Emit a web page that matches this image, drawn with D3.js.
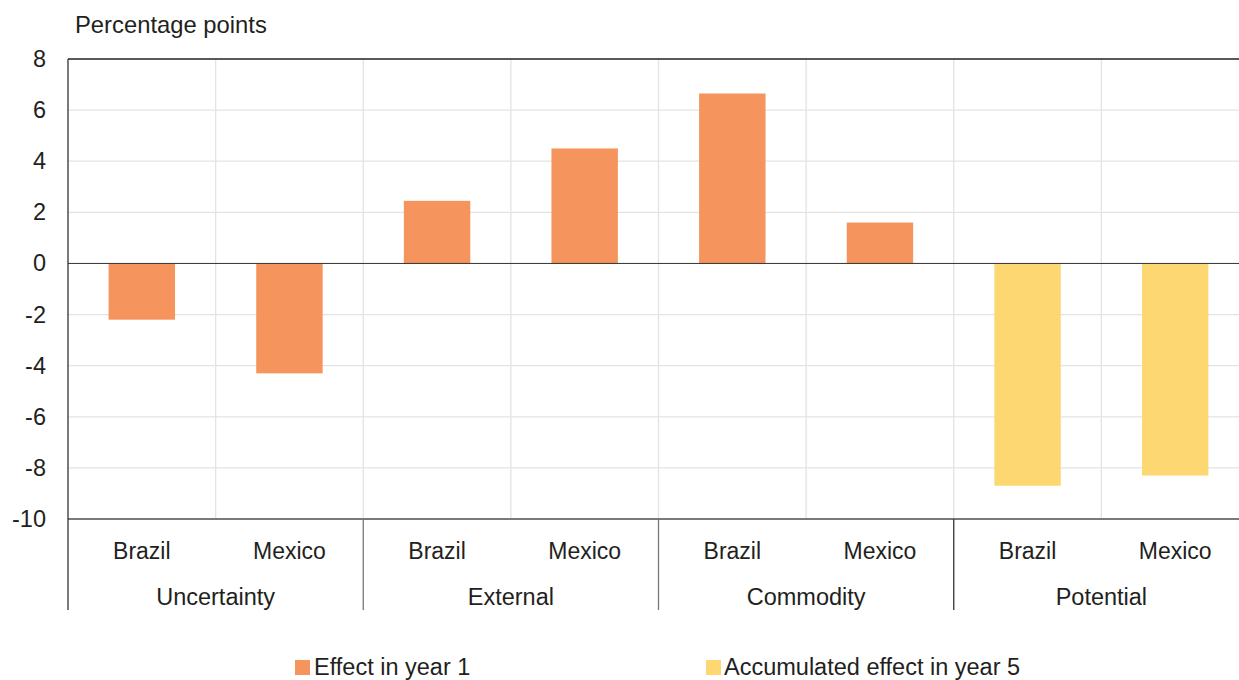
<!DOCTYPE html>
<html><head><meta charset="utf-8">
<script src="https://cdn.jsdelivr.net/npm/d3@7"></script>
<style>body{margin:0;background:#fff;} text{font-family:"Liberation Sans",Arial,sans-serif;fill:#231f20;}</style>
</head><body><svg id="c" width="1239" height="680"></svg>
<script>
const groups = ["Uncertainty","External","Commodity","Potential"];
const countries = ["Brazil","Mexico"];
const year1 = [-2.2, -4.3, 2.45, 4.5, 6.65, 1.6, null, null];
const year5 = [null, null, null, null, null, null, -8.7, -8.3];
const yTicks = [8,6,4,2,0,-2,-4,-6,-8,-10];
const seriesNames = ["Effect in year 1","Accumulated effect in year 5"];
const colors = ["#F5945C","#FDD872"];

const svg = d3.select("#c");
const L=68, R=1249, T=59, B=519;
const keys = [];
groups.forEach(g=>countries.forEach(c=>keys.push(g+"|"+c)));
const x = d3.scaleBand().domain(keys).range([L,R]).paddingInner(0.55).paddingOuter(0.275);
const step = x.step();
const y = d3.scaleLinear().domain([-10,8]).range([B,T]);

// horizontal gridlines
svg.append("g").selectAll("line").data(yTicks.filter(t=>t!==8 && t!==-10 && t!==0)).join("line")
  .attr("x1",L).attr("x2",R).attr("y1",d=>y(d)).attr("y2",d=>y(d))
  .attr("stroke","#e3e3e3").attr("stroke-width",1.3);
// vertical gridlines
svg.append("g").selectAll("line").data(d3.range(1,8)).join("line")
  .attr("x1",i=>L+i*step).attr("x2",i=>L+i*step).attr("y1",T).attr("y2",B)
  .attr("stroke","#e3e3e3").attr("stroke-width",1.3);

// bars
const bars = [];
keys.forEach((k,i)=>{
  if(year1[i]!==null) bars.push({k,v:year1[i],s:0});
  if(year5[i]!==null) bars.push({k,v:year5[i],s:1});
});
svg.append("g").selectAll("rect").data(bars).join("rect")
  .attr("x",d=>x(d.k)).attr("width",x.bandwidth())
  .attr("y",d=>y(Math.max(0,d.v))).attr("height",d=>Math.abs(y(d.v)-y(0)))
  .attr("fill",d=>colors[d.s]);

// zero line
svg.append("line").attr("x1",L).attr("x2",R).attr("y1",y(0)).attr("y2",y(0)).attr("stroke","#333").attr("stroke-width",1);
// top border
svg.append("line").attr("x1",L).attr("x2",R).attr("y1",T).attr("y2",T).attr("stroke","#222").attr("stroke-width",1.5);
// bottom axis
svg.append("line").attr("x1",L).attr("x2",R).attr("y1",B).attr("y2",B).attr("stroke","#7a7a7a").attr("stroke-width",2);
// left axis
svg.append("line").attr("x1",L).attr("x2",L).attr("y1",T).attr("y2",610).attr("stroke","#333").attr("stroke-width",1.3);
// group separators
d3.range(1,4).forEach(i=>{
  svg.append("line").attr("x1",L+i*2*step).attr("x2",L+i*2*step).attr("y1",B).attr("y2",610)
    .attr("stroke", i===3?"#333":"#777").attr("stroke-width",1.3);
});

// y tick labels
svg.append("g").selectAll("text").data(yTicks).join("text")
  .attr("x",46).attr("y",d=>y(d)+8).attr("text-anchor","end").attr("font-size",23.5).text(d=>d);
svg.append("text").attr("x",75).attr("y",33).attr("font-size",23.8).text("Percentage points");

// category labels
svg.append("g").selectAll("text").data(keys).join("text")
  .attr("x",d=>x(d)+x.bandwidth()/2).attr("y",559).attr("text-anchor","middle").attr("font-size",23)
  .text(d=>d.split("|")[1]);
svg.append("g").selectAll("text").data(groups).join("text")
  .attr("x",(d,i)=>L+(i*2+1)*step).attr("y",605).attr("text-anchor","middle").attr("font-size",23.5)
  .text(d=>d);

// legend
const leg = [{x:295,tx:314},{x:706,tx:724}];
seriesNames.forEach((n,i)=>{
  svg.append("rect").attr("x",leg[i].x).attr("y",660).attr("width",15).attr("height",15).attr("fill",colors[i]);
  svg.append("text").attr("x",leg[i].tx).attr("y",675).attr("font-size",23.5).text(n);
});
</script></body></html>
